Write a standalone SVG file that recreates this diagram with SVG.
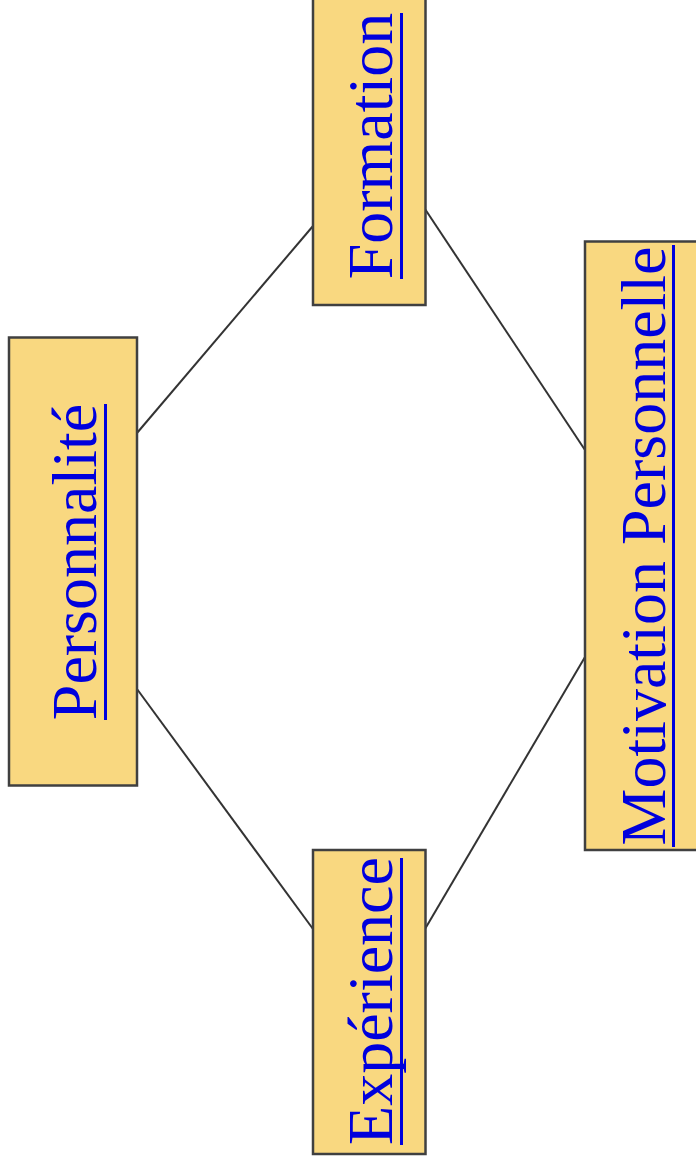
<svg xmlns="http://www.w3.org/2000/svg" width="696" height="1167" viewBox="0 0 696 1167">
<style>
.box{fill:#f9d880;stroke:#404040;stroke-width:2.5}
.lbl{font-family:"Liberation Serif","Times New Roman",serif;font-size:64px;fill:#0000dd;text-anchor:middle}
.ul{stroke:#0000dd;stroke-width:3}
.edge{stroke:#333;stroke-width:2;fill:none}
</style>
<rect width="696" height="1167" fill="#fff"/>
<g id="connectors">
<line class="edge" x1="137" y1="433" x2="313" y2="226"/>
<line class="edge" x1="425" y1="209" x2="585" y2="450"/>
<line class="edge" x1="137" y1="689" x2="313" y2="929"/>
<line class="edge" x1="425" y1="929" x2="585" y2="657"/>
</g>
<g id="personnalite">
<rect class="box" x="9" y="337.5" width="128" height="448"/>
<text class="lbl" transform="translate(96,562) rotate(-90)">Personnalité</text>
<line class="ul" x1="105.5" y1="404" x2="105.5" y2="720"/>
</g>
<g id="formation">
<rect class="box" x="313" y="-15" width="112.5" height="320"/>
<text class="lbl" transform="translate(392,146) rotate(-90)">Formation</text>
<line class="ul" x1="401.5" y1="13" x2="401.5" y2="279"/>
</g>
<g id="experience">
<rect class="box" x="313" y="850" width="112.5" height="304"/>
<text class="lbl" transform="translate(392,1001) rotate(-90)">Expérience</text>
<line class="ul" x1="401.5" y1="858" x2="401.5" y2="1145"/>
</g>
<g id="motivation">
<rect class="box" x="585" y="241.5" width="125" height="608.5"/>
<text class="lbl" transform="translate(665,546) rotate(-90)">Motivation Personnelle</text>
<line class="ul" x1="673.5" y1="245" x2="673.5" y2="847"/>
</g>
</svg>
